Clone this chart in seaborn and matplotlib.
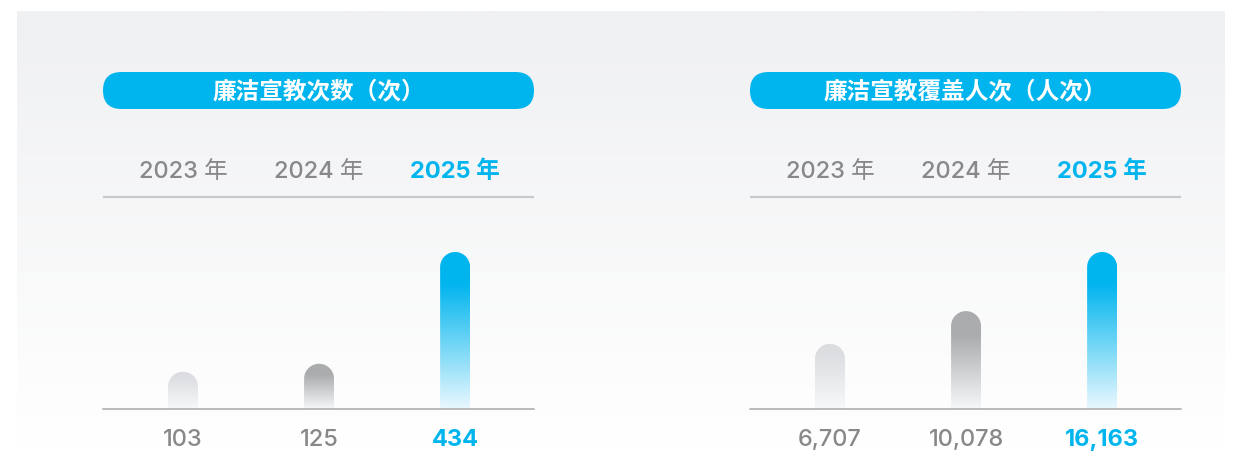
import numpy as np
import pandas as pd
import matplotlib.pyplot as plt
import seaborn as sns
from matplotlib.patches import FancyBboxPatch, PathPatch
from matplotlib.path import Path
from matplotlib.colors import to_rgb
from matplotlib.transforms import blended_transform_factory

# dados
years = ['2023 年', '2024 年', '2025 年']
titles = ['廉洁宣教次数（次）', '廉洁宣教覆盖人次（人次）']
counts = [103, 125, 434]
people = [6707, 10078, 16163]
count_labels = ['103', '125', '434']
people_labels = ['6,707', '10,078', '16,163']

BLUE = '#00b5ee'
GRAY_TXT = '#88888a'
W, H = 1239, 452
NUM_FONT = ['Inter', 'Noto Sans CJK SC', 'DejaVu Sans']

sns.set_theme(style='white')
plt.rcParams['font.family'] = ['Noto Sans CJK SC', 'DejaVu Sans']

fig = plt.figure(figsize=(W / 100, H / 100), dpi=100)
fig.patch.set_facecolor('white')

# fundo em pixels
bg = fig.add_axes([0, 0, 1, 1])
bg.axis('off')
top_c = np.array(to_rgb('#eff0f2'))
bot_c = np.array(to_rgb('#ffffff'))
t = np.linspace(0, 1, 256)[:, None]
grad = top_c * (1 - t) + bot_c * t
bg.imshow(grad[:, None, :].repeat(2, axis=1), extent=(17, 1225, 447, 12),
          aspect='auto', zorder=0)


def bar_colors(top, bottom, hold=0.2, n=200):
    top = np.array(to_rgb(top))
    bottom = np.array(to_rgb(bottom))
    s = np.linspace(0, 1, n)
    f = np.clip((s - hold) / (1 - hold), 0, 1)[:, None]
    return (top * (1 - f) + bottom * f)[:, None, :].repeat(2, axis=1)


grads = [bar_colors('#dcdde0', '#f7f8f9', 0.15),
         bar_colors('#abacae', '#f6f7f8', 0.25),
         bar_colors(BLUE, '#eaf8fe', 0.2)]

panels = [(103, titles[0], counts, count_labels),
          (750, titles[1], people, people_labels)]

bars_px = []
for left, title, vals, labels in panels:
    pw = 431
    # pílula do título
    pill = FancyBboxPatch((left, 73), pw, 37,
                          boxstyle='round,pad=0,rounding_size=18.5',
                          fc=BLUE, ec='none', zorder=2)
    bg.add_patch(pill)
    bg.text(left + pw / 2, 92, title, color='white', fontsize=17,
            fontweight='bold', ha='center', va='center', zorder=3)
    bg.plot([left, left + pw], [197.5, 197.5], color='#c8c9cc', lw=1.6,
            solid_capstyle='butt', zorder=2)

    ax = fig.add_axes([left / W, (H - 410) / H, pw / W, 210 / H])
    df = pd.DataFrame({'ano': years, 'valor': vals})
    sns.barplot(data=df, x='ano', y='valor', ax=ax, width=0.22,
                color=BLUE, errorbar=None)
    ax.set_xlim(-0.588, 2.58)
    ax.set_ylim(0, max(vals) * 210 / 157)
    ax.axis('off')
    ax.patch.set_alpha(0)
    ax.axhline(0, color='#b4b4b6', lw=1.3, clip_on=False, zorder=3)

    for i, p in enumerate(ax.patches):
        p.set_visible(False)
        bars_px.append((ax, p, grads[i]))

    tr = blended_transform_factory(ax.transData, bg.transData)
    for i, (yr, lab) in enumerate(zip(years, labels)):
        last = i == 2
        kw = dict(transform=tr, ha='center', va='center',
                  color=BLUE if last else GRAY_TXT,
                  fontweight='bold' if last else 'medium', family=NUM_FONT)
        ax.text(i, 172, yr, fontsize=17, **kw)
        ax.text(i, 440, lab, fontsize=17, **kw)

bg.set_xlim(0, W)
bg.set_ylim(H, 0)

# barras com gradiente e topo arredondado, em pixels
to_bg = bg.transData.inverted()
for ax, p, g in bars_px:
    x, w, h = p.get_x(), p.get_width(), p.get_height()
    (x0, yb), (x1, yt) = to_bg.transform(ax.transData.transform([(x, 0), (x + w, h)]))
    r = (x1 - x0) / 2
    ang = np.linspace(np.pi, 0, 60)
    arc = np.column_stack([x0 + r + r * np.cos(ang), yt + r - r * np.sin(ang)])
    verts = np.vstack([[x0, yb], arc, [x1, yb], [x0, yb]])
    clip = PathPatch(Path(verts), fc='none', ec='none', transform=bg.transData)
    bg.add_patch(clip)
    im = bg.imshow(g, extent=(x0, x1, yb, yt), aspect='auto', zorder=2,
                   interpolation='bilinear')
    im.set_clip_path(clip)

bg.set_xlim(0, W)
bg.set_ylim(H, 0)

fig.savefig('out.png', dpi=100)
